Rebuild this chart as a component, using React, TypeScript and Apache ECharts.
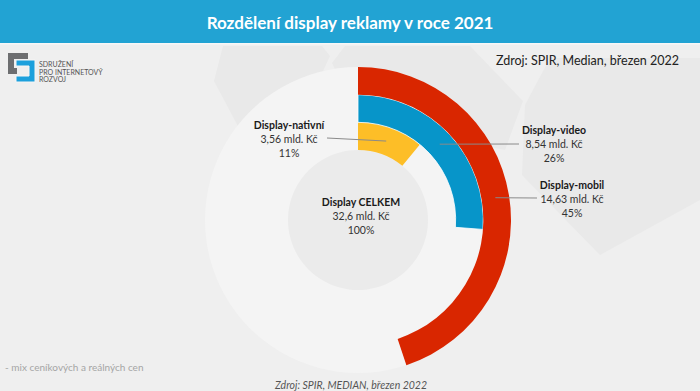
import React, { useEffect, useRef } from "react";
import * as echarts from "echarts";

const titleText = "Rozdělení display reklamy v roce 2021";
const sourceTop = "Zdroj: SPIR, Median, březen 2022";
const sourceBottom = "Zdroj: SPIR, MEDIAN, březen 2022";
const footNote = "- mix ceníkových a reálných cen";
const logoLines = ["SDRUŽENÍ", "PRO INTERNETOVÝ", "ROZVOJ"];

const categories = ["Display-nativní", "Display-video", "Display-mobil"];
const values = [3.56, 8.54, 14.63];
const totalLabel = "Display CELKEM";
const totalValue = 32.6;
const unit = "mld. Kč";
const colors = ["#fdbe27", "#0795c9", "#d92600"];

const fmt = (v: number) => String(v).replace(".", ",");
const pct = (v: number) => Math.round((v / totalValue) * 100) + "%";

export default function App() {
  const ref = useRef<HTMLDivElement>(null);
  useEffect(() => {
    if (!ref.current) return;
    const chart = echarts.init(ref.current, null, { renderer: "svg" });
    const cx = 358;
    const cy = 220;
    const r0 = 70;
    const r1 = 153;
    const band = (r1 - r0) / categories.length;
    const font = "Lato, 'Open Sans', sans-serif";

    const labelPos = [
      [289, 139],
      [554, 144],
      [572, 199],
    ];
    const lineEnd = [
      [327, 138],
      [519, 144],
      [537, 198],
    ];

    const leader: any[] = values.map((v, i) => {
      const a = (v / 2 / totalValue) * Math.PI * 2;
      const r = r0 + (i + 0.5) * band;
      const sx = cx + r * Math.sin(a);
      const sy = cy - r * Math.cos(a);
      return {
        type: "line",
        z: 20,
        shape: { x1: sx, y1: sy, x2: lineEnd[i][0], y2: lineEnd[i][1] },
        style: { stroke: "#8a8a8a", lineWidth: 1 },
      };
    });

    const rich = {
      b: { fontFamily: font, fontSize: 10.5, fontWeight: "bold", fill: "#1a1a1a", lineHeight: 14, align: "center" },
      n: { fontFamily: font, fontSize: 10.5, fill: "#333", lineHeight: 14, align: "center" },
    };

    const labelTexts: any[] = categories.map((c, i) => ({
      type: "text",
      z: 20,
      x: labelPos[i][0],
      y: labelPos[i][1],
      style: {
        text: `{b|${c}}\n{n|${fmt(values[i])} ${unit}}\n{n|${pct(values[i])}}`,
        align: "center",
        verticalAlign: "middle",
        rich,
      },
    }));

    const hexColor = "#e9e9e9";
    const option: any = {
      animation: false,
      backgroundColor: "#efefef",
      polar: { center: [cx, cy], radius: [r0, r1] },
      angleAxis: {
        type: "value",
        min: 0,
        max: totalValue,
        startAngle: 90,
        clockwise: true,
        show: false,
        splitLine: { show: false },
      },
      radiusAxis: {
        type: "category",
        data: categories,
        show: false,
      },
      series: [
        {
          type: "bar",
          coordinateSystem: "polar",
          barCategoryGap: "0%",
          silent: true,
          z: 5,
          data: values.map((v, i) => ({
            value: v,
            itemStyle: {
              color: colors[i],
              borderColor: i === 1 ? "#ffffff" : colors[i],
              borderWidth: i === 1 ? 0.8 : 0,
            },
          })),
        },
      ],
      graphic: [
        { type: "polygon", z: 0, shape: { points: [[214, 81], [223, 46], [322, 46], [330, 56], [300, 120], [240, 130]] }, style: { fill: hexColor } },
        { type: "polygon", z: 0, shape: { points: [[332, 63], [345, 46], [470, 46], [523, 101], [505, 150], [360, 120]] }, style: { fill: hexColor } },
        { type: "polygon", z: 0, shape: { points: [[525, 105], [550, 58], [700, 58], [700, 200], [600, 255], [522, 175]] }, style: { fill: hexColor } },
        { type: "rect", z: 1, shape: { x: 0, y: 0, width: 700, height: 43 }, style: { fill: "#22a3d3" } },
        { type: "rect", z: 1, shape: { x: 0, y: 43, width: 700, height: 1.5 }, style: { fill: "#f7f7f7" } },
        {
          type: "text",
          z: 2,
          x: 350,
          y: 22,
          style: { text: titleText, fontFamily: font, fontSize: 17, fontWeight: "bold", fill: "#ffffff", align: "center", verticalAlign: "middle" },
        },
        { type: "circle", z: 1, shape: { cx, cy, r: r1 }, style: { fill: "#f4f4f4" } },
        { type: "circle", z: 2, shape: { cx, cy, r: r0 }, style: { fill: "#ebebeb" } },
        { type: "polygon", z: 3, shape: { points: [[8, 53], [28, 53], [28, 59], [14, 59], [14, 68], [17, 68], [17, 74], [8, 74]] }, style: { fill: "#6d6e70" } },
        { type: "polygon", z: 4, shape: { points: [[16, 60], [35, 60], [35, 82], [16, 82], [16, 76], [29, 76], [29, 66], [16, 66]] }, style: { fill: "#1ca0dc", stroke: "#f5f5f5", lineWidth: 1 } },
        ...logoLines.map((t, i) => ({
          type: "text",
          z: 4,
          x: 39,
          y: 64 + i * 7.5,
          style: { text: t, fontFamily: font, fontSize: 7, fill: "#555", align: "left", verticalAlign: "middle" },
        })),
        {
          type: "text",
          z: 4,
          x: 679,
          y: 60,
          style: { text: sourceTop, fontFamily: font, fontSize: 12.5, fill: "#222", align: "right", verticalAlign: "middle" },
        },
        {
          type: "text",
          z: 4,
          x: 5,
          y: 367,
          style: { text: footNote, fontFamily: font, fontSize: 10, fill: "#a5a5a5", align: "left", verticalAlign: "middle" },
        },
        {
          type: "text",
          z: 4,
          x: 351,
          y: 385,
          style: { text: sourceBottom, fontFamily: font, fontSize: 10.5, fontStyle: "italic", fill: "#555", align: "center", verticalAlign: "middle" },
        },
        {
          type: "text",
          z: 20,
          x: 361,
          y: 216,
          style: {
            text: `{b|${totalLabel}}\n{n|${fmt(totalValue)} ${unit}}\n{n|100%}`,
            align: "center",
            verticalAlign: "middle",
            rich,
          },
        },
        ...leader,
        ...labelTexts,
      ],
    };
    chart.setOption(option);
    return () => chart.dispose();
  }, []);
  return <div ref={ref} style={{ position: "fixed", left: 0, top: 0, width: 700, height: 391 }} />;
}
